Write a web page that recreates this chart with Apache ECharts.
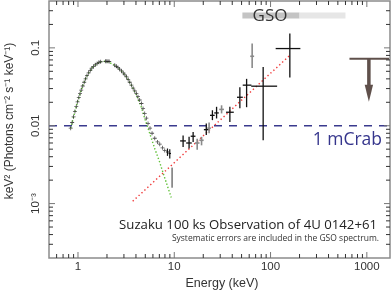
<!DOCTYPE html>
<html><head><meta charset="utf-8">
<script src="https://cdn.jsdelivr.net/npm/echarts@6/dist/echarts.min.js"></script>
<style>html,body{margin:0;padding:0;background:#fff}#c{width:392px;height:290px}</style>
</head><body><div id="c"></div>
<script>
// ---- axes ----
const xMin = 0.5, xMax = 1740;
const yMin = 2e-4, yMax = 0.4;
const xTickValues = [1, 10, 100, 1000];
const xTickLabels = ['1', '10', '100', '1000'];
const yTickValues = [0.001, 0.01, 0.1];
const yTickLabels = ['10\u207B\u00B3', '0.01', '0.1'];

// ---- XIS spectrum (keV, keV^2 photons cm^-2 s^-1 keV^-1) ----
const xisE = [0.84,0.87,0.90,0.93,0.96,0.99,1.02,1.05,1.08,1.12,1.16,1.20,1.24,1.29,1.34,1.39,1.45,1.51,1.58,1.65,1.72,
  1.93,1.99,2.05,2.11,2.41,2.50,2.60,2.71,2.83,2.95,3.07,3.19,3.32,3.45,3.59,3.74,3.89,4.04,4.20,4.37,4.56,4.74,4.93,
  5.13,5.34,5.60,5.88,6.27,6.70,7.07,7.55,7.96];
const xisY = [0.0093,0.0110,0.0130,0.0152,0.0176,0.0203,0.0230,0.0258,0.0287,0.0324,0.0362,0.0400,0.0440,0.0478,0.0515,
  0.0548,0.0577,0.0605,0.0632,0.0652,0.0663,0.0672,0.0675,0.0672,0.0668,0.0600,0.0580,0.0558,0.0533,0.0506,0.0476,
  0.0450,0.0424,0.0393,0.0362,0.0332,0.0304,0.0280,0.0259,0.0236,0.0214,0.0193,0.0167,0.0144,0.0125,0.0107,0.0093,
  0.0080,0.0069,0.0062,0.0058,0.0052,0.0048];
// XIS high-energy bins with visible error bars
const xisHiE = [8.5, 8.98];
const xisHiY = [0.0046, 0.0044];
const xisHiYLo = [0.0041, 0.0038];
const xisHiYHi = [0.0051, 0.0050];
const xisGrayE = [9.5];
const xisGrayY = [0.0023];
const xisGrayYLo = [0.0016];
const xisGrayYHi = [0.0029];

// ---- HXD spectrum ----
const hxdE   = [12.35, 14.25, 15.7, 21.5, 24.9, 27.5, 37.8, 48.0, 56.4, 83.8, 158.6];
const hxdELo = [11.5, 13.3, 14.8, 20.3, 23.5, 26.0, 34.5, 44.8, 51.4, 63, 113];
const hxdEHi = [13.2, 15.2, 16.6, 22.8, 26.3, 29.0, 41.5, 51.5, 63.3, 117, 204];
const hxdY   = [0.00638, 0.0060, 0.00733, 0.0089, 0.0136, 0.0146, 0.0149, 0.0232, 0.0332, 0.0322, 0.098];
const hxdYLo = [0.00535, 0.0051, 0.0062, 0.0076, 0.0118, 0.0124, 0.0112, 0.0168, 0.0173, 0.0065, 0.0417];
const hxdYHi = [0.0075, 0.0072, 0.0083, 0.0107, 0.0158, 0.0175, 0.0175, 0.0313, 0.040, 0.057, 0.153];
const hxd2E   = [17.3, 19.2, 23.0, 31.0, 64.4];
const hxd2ELo = [16.4, 18.2, 22.0, 29.3, 61.5];
const hxd2EHi = [18.3, 20.2, 24.0, 32.8, 67.5];
const hxd2Y   = [0.0060, 0.0065, 0.0093, 0.0162, 0.078];
const hxd2YLo = [0.0049, 0.0056, 0.0080, 0.0144, 0.055];
const hxd2YHi = [0.0068, 0.0072, 0.0110, 0.0183, 0.114];

// ---- GSO upper limit ----
const ulELo = 660, ulEHi = 1700, ulE = 1050, ulY = 0.0723, ulYEnd = 0.0203;

// ---- models ----
const bbE = [0.84,0.90,0.96,1.08,1.22,1.43,1.68,1.97,2.41,2.83,3.19,3.59,4.04,4.56,4.93,5.3,5.8,6.3,7.0,7.9,8.6,9.3];
const bbY = [0.0093,0.0130,0.0176,0.0287,0.0424,0.057,0.066,0.0675,0.060,0.0506,0.0424,0.0330,0.0250,0.0172,0.0125,
  0.0095,0.0068,0.0050,0.0035,0.0022,0.0016,0.0012];
const plE = [3.7, 160];
const plY = [0.00107, 0.081];

// ---- annotations ----
const mCrabLevel = 0.01;
const gsoBandE = [[51, 200], [200, 600]];
const gsoBandY = [0.239, 0.285];

const zip = (a, b) => a.map((v, i) => [v, b[i]]);
const matchLabel = (vals, labels) => v => {
  const i = vals.findIndex(t => Math.abs(t - v) / t < 1e-6);
  return i >= 0 ? labels[i] : '';
};

const xMinor = [], yMinor = [];
for (const d of [0.1, 1, 10, 100]) for (let k = 2; k <= 9; k++) { const v = k * d; if (v > xMin && v < xMax) xMinor.push(v); }
for (const d of [0.0001, 0.001, 0.01, 0.1]) for (let k = 2; k <= 9; k++) { const v = k * d; if (v > yMin * 1.0001 && v < yMax * 0.9999) yMinor.push(v); }

function crossSeries(E, ELo, EHi, Y, YLo, YHi, color, lw) {
  return {
    type: 'custom', z: 5,
    data: E.map((e, i) => [e, Y[i], ELo[i], EHi[i], YLo[i], YHi[i]]),
    encode: { x: 0, y: 1 },
    renderItem(p, api) {
      const e = api.value(0), y = api.value(1);
      const l = api.coord([api.value(2), y]), r = api.coord([api.value(3), y]);
      const b = api.coord([e, api.value(4)]), t = api.coord([e, api.value(5)]);
      return { type: 'group', children: [
        { type: 'line', shape: { x1: l[0], y1: l[1], x2: r[0], y2: r[1] }, style: { stroke: color, lineWidth: lw } },
        { type: 'line', shape: { x1: t[0], y1: t[1], x2: b[0], y2: b[1] }, style: { stroke: color, lineWidth: lw } }
      ]};
    }
  };
}

function tickSeries(vals, isX, len, color) {
  return {
    type: 'custom', z: 10, silent: true,
    data: vals.map(v => isX ? [v, yMin] : [xMin, v]),
    encode: { x: 0, y: 1 },
    renderItem(p, api) {
      const v = api.value(isX ? 0 : 1);
      if (isX) {
        const b = api.coord([v, yMin]), t = api.coord([v, yMax]);
        return { type: 'group', children: [
          { type: 'line', shape: { x1: b[0], y1: b[1], x2: b[0], y2: b[1] - len }, style: { stroke: color, lineWidth: 1 } },
          { type: 'line', shape: { x1: t[0], y1: t[1], x2: t[0], y2: t[1] + len }, style: { stroke: color, lineWidth: 1 } }
        ]};
      }
      const l = api.coord([xMin, v]), r = api.coord([xMax, v]);
      return { type: 'group', children: [
        { type: 'line', shape: { x1: l[0], y1: l[1], x2: l[0] + len, y2: l[1] }, style: { stroke: color, lineWidth: 1 } },
        { type: 'line', shape: { x1: r[0], y1: r[1], x2: r[0] - len, y2: r[1] }, style: { stroke: color, lineWidth: 1 } }
      ]};
    }
  };
}

const chart = echarts.init(document.getElementById('c'), null, { renderer: 'canvas' });
const axisFont = { fontFamily: 'Liberation Sans', fontSize: 11.5, color: '#333' };
chart.setOption({
  animation: false,
  grid: { left: 49, right: 2, top: 1, bottom: 32, show: true, borderColor: '#8c8c8c', borderWidth: 1.5, backgroundColor: 'transparent' },
  xAxis: {
    type: 'log', logBase: 10, min: xMin, max: xMax,
    axisLine: { show: false }, axisTick: { show: false }, splitLine: { show: false },
    axisLabel: Object.assign({ margin: 3, showMinLabel: false, showMaxLabel: false, formatter: matchLabel(xTickValues, xTickLabels) }, axisFont)
  },
  yAxis: {
    type: 'log', logBase: 10, min: yMin, max: yMax,
    axisLine: { show: false }, axisTick: { show: false }, splitLine: { show: false },
    axisLabel: Object.assign({ margin: 7, rotate: 90, showMinLabel: false, showMaxLabel: false, formatter: matchLabel(yTickValues, yTickLabels) }, axisFont)
  },
  graphic: [
    { type: 'text', z: 100, x: 10, y: 121, rotation: Math.PI / 2,
      style: { text: 'keV\u00B2 (Photons cm\u207B\u00B2 s\u207B\u00B9 keV\u207B\u00B9)', font: '12px "Liberation Sans"', fill: '#333', align: 'center', verticalAlign: 'middle' } },
    { type: 'text', z: 100, x: 222, y: 284,
      style: { text: 'Energy (keV)', font: '12.5px "Liberation Sans"', fill: '#333', align: 'center', verticalAlign: 'middle' } },
    { type: 'text', z: 100, x: 377, y: 225,
      style: { text: 'Suzaku 100 ks Observation of 4U 0142+61', font: '13.2px "Open Sans"', fill: '#222', align: 'right', verticalAlign: 'middle' } },
    { type: 'text', z: 100, x: 379, y: 238.5,
      style: { text: 'Systematic errors are included in the GSO spectrum.', font: '8.5px "Open Sans"', fill: '#333', align: 'right', verticalAlign: 'middle' } },
    { type: 'text', z: 100, x: 382, y: 140,
      style: { text: '1 mCrab', font: '17.5px "Open Sans"', fill: '#35358c', align: 'right', verticalAlign: 'middle' } },
    { type: 'text', z: 100, x: 270, y: 16,
      style: { text: 'GSO', font: '17px "Open Sans"', fill: '#333', align: 'center', verticalAlign: 'middle' } }
  ],
  series: [
    { type: 'custom', z: 1, silent: true,
      data: gsoBandE.map((b, i) => [b[0], gsoBandY[0], b[1], gsoBandY[1], i]),
      encode: { x: 0, y: 1 },
      renderItem(p, api) {
        const a = api.coord([api.value(0), api.value(3)]), b = api.coord([api.value(2), api.value(1)]);
        return { type: 'rect', shape: { x: a[0], y: a[1], width: b[0] - a[0], height: b[1] - a[1] },
          style: { fill: api.value(4) === 0 ? '#c4c4c4' : '#e6e6e6' } };
      } },
    { type: 'line', z: 2, symbol: 'none', data: [[xMin, mCrabLevel], [xMax, mCrabLevel]],
      lineStyle: { color: '#3a3a8e', width: 1.3, type: [8, 7] } },
    { type: 'line', z: 3, symbol: 'none', data: zip(bbE, bbY),
      lineStyle: { color: '#62c13a', width: 1.4, type: [1.4, 2] } },
    { type: 'line', z: 3, symbol: 'none', data: zip(plE, plY),
      lineStyle: { color: '#f03a3a', width: 1.4, type: [1.4, 2.6] } },
    { type: 'scatter', z: 4, data: zip(xisE, xisY), symbol: 'path://M4,0H6V4H10V6H6V10H4V6H0V4H4Z', symbolSize: 4,
      itemStyle: { color: '#222' } },
    crossSeries(xisHiE, xisHiE.map(e => e / 1.03), xisHiE.map(e => e * 1.03), xisHiY, xisHiYLo, xisHiYHi, '#111', 1.2),
    crossSeries(xisGrayE, xisGrayE, xisGrayE, xisGrayY, xisGrayYLo, xisGrayYHi, '#8a8a8a', 1.8),
    crossSeries(hxdE, hxdELo, hxdEHi, hxdY, hxdYLo, hxdYHi, '#111', 1.3),
    crossSeries(hxd2E, hxd2ELo, hxd2EHi, hxd2Y, hxd2YLo, hxd2YHi, '#8a8a8a', 1.6),
    { type: 'custom', z: 6, silent: true,
      data: [[ulE, ulY, ulELo, ulEHi, ulYEnd]],
      encode: { x: 0, y: 1 },
      renderItem(p, api) {
        const y = api.value(1);
        const a = api.coord([api.value(2), y]), b = api.coord([api.value(3), y]);
        const top = api.coord([api.value(0), y]), tip = api.coord([api.value(0), api.value(4)]);
        const headLen = 17, headW = 4.2, col = '#5f504b';
        return { type: 'group', children: [
          { type: 'line', shape: { x1: a[0], y1: a[1], x2: b[0], y2: b[1] }, style: { stroke: col, lineWidth: 2 } },
          { type: 'line', shape: { x1: top[0], y1: top[1], x2: top[0], y2: tip[1] - headLen + 1 }, style: { stroke: col, lineWidth: 3.5 } },
          { type: 'polygon', shape: { points: [[tip[0] - headW, tip[1] - headLen], [tip[0] + headW, tip[1] - headLen], [tip[0], tip[1]]] }, style: { fill: col } }
        ]};
      } },
    tickSeries(xTickValues, true, 6, '#777'),
    tickSeries(xMinor, true, 4, '#333'),
    tickSeries(yTickValues, false, 6, '#777'),
    tickSeries(yMinor, false, 4, '#333')
  ]
});
</script></body></html>
